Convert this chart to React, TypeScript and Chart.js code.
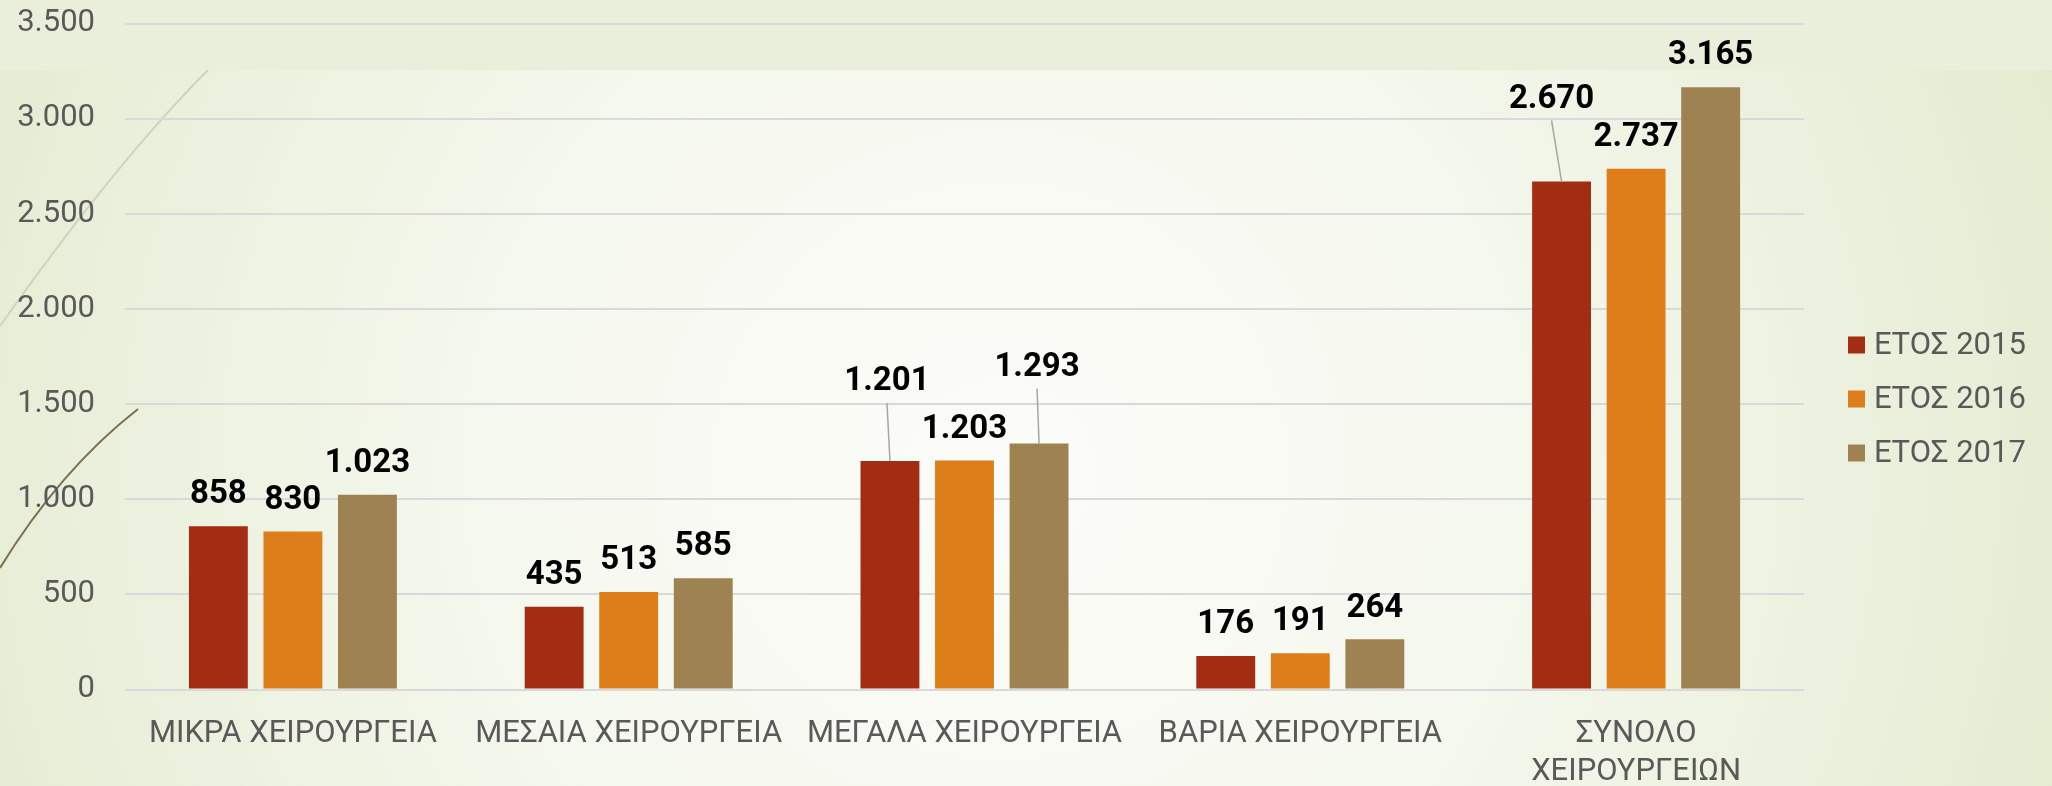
import React, { useEffect, useRef } from 'react';
import { Chart, registerables } from 'chart.js';

Chart.register(...registerables);

// ---------- data ----------
const categories: (string | string[])[] = [
  'ΜΙΚΡΑ ΧΕΙΡΟΥΡΓΕΙΑ',
  'ΜΕΣΑΙΑ ΧΕΙΡΟΥΡΓΕΙΑ',
  'ΜΕΓΑΛΑ ΧΕΙΡΟΥΡΓΕΙΑ',
  'ΒΑΡΙΑ ΧΕΙΡΟΥΡΓΕΙΑ',
  ['ΣΥΝΟΛΟ', 'ΧΕΙΡΟΥΡΓΕΙΩΝ'],
];
const seriesNames = ['ΕΤΟΣ 2015', 'ΕΤΟΣ 2016', 'ΕΤΟΣ 2017'];
const values2015 = [858, 435, 1201, 176, 2670];
const values2016 = [830, 513, 1203, 191, 2737];
const values2017 = [1023, 585, 1293, 264, 3165];
const yMin = 0;
const yMax = 3500;
const yStep = 500;

// ---------- style ----------
const seriesColors = ['#A32D12', '#DE7E1A', '#9F8252'];
const textGray = '#595959';
const gridGray = '#D9D9DB';
const FONT = 'Roboto';

// label nudges [dx, dy] in px relative to bar top centre (Excel-moved labels)
const labelNudges2015 = [[0, -31], [0, -31], [-3, -79], [0, -31], [-10, -82]];
const labelNudges2016 = [[0, -31], [0, -31], [0, -31], [0, -31], [0, -31]];
const labelNudges2017 = [[0, -31], [0, -31], [-2, -76], [0, -31], [0, -31]];
const labelNudges = [labelNudges2015, labelNudges2016, labelNudges2017];

const fmt = (v: number) => String(Math.round(v)).replace(/\B(?=(\d{3})+(?!\d))/g, '.');

const backgroundPlugin = {
  id: 'slideBackground',
  beforeDraw(chart: any) {
    const { ctx, width, height } = chart;
    ctx.save();
    const g = ctx.createRadialGradient(1000, 470, 0, 1000, 470, 1250);
    g.addColorStop(0, '#FBFCF8');
    g.addColorStop(0.4, '#F5F8EE');
    g.addColorStop(0.75, '#E9EFDA');
    g.addColorStop(1, '#E0E8C8');
    ctx.fillStyle = g;
    ctx.fillRect(0, 0, width, height);
    // top band
    ctx.fillStyle = '#EAEFDC';
    ctx.fillRect(0, 0, width, 70);
    // decorative curves
    ctx.strokeStyle = '#CFD4BF';
    ctx.lineWidth = 2;
    ctx.beginPath();
    ctx.moveTo(208, 70);
    ctx.quadraticCurveTo(116, 162, 0, 326);
    ctx.stroke();
    ctx.strokeStyle = '#7C6F4E';
    ctx.lineWidth = 2;
    ctx.beginPath();
    ctx.moveTo(138, 409);
    ctx.quadraticCurveTo(60, 470, 0, 568);
    ctx.stroke();
    ctx.restore();
  },
};

const dataLabelPlugin = {
  id: 'barValueLabels',
  afterDatasetsDraw(chart: any) {
    const { ctx } = chart;
    ctx.save();
    ctx.font = `bold 33px ${FONT}`;
    ctx.textAlign = 'center';
    ctx.textBaseline = 'middle';
    chart.data.datasets.forEach((ds: any, di: number) => {
      const meta = chart.getDatasetMeta(di);
      meta.data.forEach((bar: any, i: number) => {
        const [dx, dy] = labelNudges[di][i];
        const lx = bar.x + dx;
        const ly = bar.y + dy;
        if (dy < -50) {
          ctx.strokeStyle = '#A6A6A6';
          ctx.lineWidth = 1.5;
          ctx.beginPath();
          ctx.moveTo(lx, ly + 21);
          ctx.lineTo(bar.x, bar.y);
          ctx.stroke();
        }
        ctx.fillStyle = '#000000';
        ctx.fillText(fmt(ds.data[i]), lx, ly);
      });
    });
    ctx.restore();
  },
};

const legendPlugin = {
  id: 'sideLegend',
  afterDraw(chart: any) {
    const { ctx, chartArea } = chart;
    ctx.save();
    ctx.font = `31px ${FONT}`;
    ctx.textAlign = 'left';
    ctx.textBaseline = 'middle';
    const boxX = chartArea.right + 44;
    const midY = 399;
    chart.data.datasets.forEach((ds: any, i: number) => {
      const cy = midY + (i - 1) * 54;
      ctx.fillStyle = ds.backgroundColor;
      ctx.fillRect(boxX, cy - 8.5, 17, 17);
      ctx.fillStyle = textGray;
      ctx.fillText(ds.label, boxX + 26, cy + 1);
    });
    ctx.restore();
  },
};

export default function App() {
  const canvasRef = useRef<HTMLCanvasElement | null>(null);

  useEffect(() => {
    const canvas = canvasRef.current;
    if (!canvas) return;
    const seriesValues = [values2015, values2016, values2017];
    const chart = new Chart(canvas, {
      type: 'bar',
      data: {
        labels: categories as any,
        datasets: seriesNames.map((name, i) => ({
          label: name,
          data: seriesValues[i],
          backgroundColor: seriesColors[i],
          borderWidth: 0,
          categoryPercentage: 0.666,
          barPercentage: 0.79,
        })),
      },
      options: {
        animation: false,
        responsive: true,
        maintainAspectRatio: false,
        layout: { padding: { top: 23.5, right: 248, bottom: 0, left: 0 } },
        plugins: {
          legend: { display: false },
          tooltip: { enabled: false },
          title: { display: false },
        },
        scales: {
          x: {
            grid: { display: false, drawTicks: false },
            border: { display: false },
            ticks: {
              color: textGray,
              font: { family: FONT, size: 31, lineHeight: 1.22 },
              padding: 26,
              maxRotation: 0,
              minRotation: 0,
              autoSkip: false,
            },
            afterFit: (s: any) => {
              s.height = 96.5;
              s.paddingLeft = 0;
              s.paddingRight = 0;
            },
          },
          y: {
            min: yMin,
            max: yMax,
            grid: { color: gridGray, lineWidth: 2, drawTicks: false },
            border: { display: false },
            ticks: {
              stepSize: yStep,
              color: textGray,
              font: { family: FONT, size: 31 },
              padding: 30,
              callback: (v: any) => fmt(Number(v)),
            },
            afterFit: (s: any) => {
              s.width = 125;
              s.paddingTop = 0;
              s.paddingBottom = 0;
            },
          },
        },
      },
      plugins: [backgroundPlugin, dataLabelPlugin, legendPlugin],
    });
    return () => chart.destroy();
  }, []);

  return (
    <div style={{ position: 'fixed', left: 0, top: 0, width: 2052, height: 786 }}>
      <canvas ref={canvasRef} style={{ display: 'block' }} />
    </div>
  );
}
